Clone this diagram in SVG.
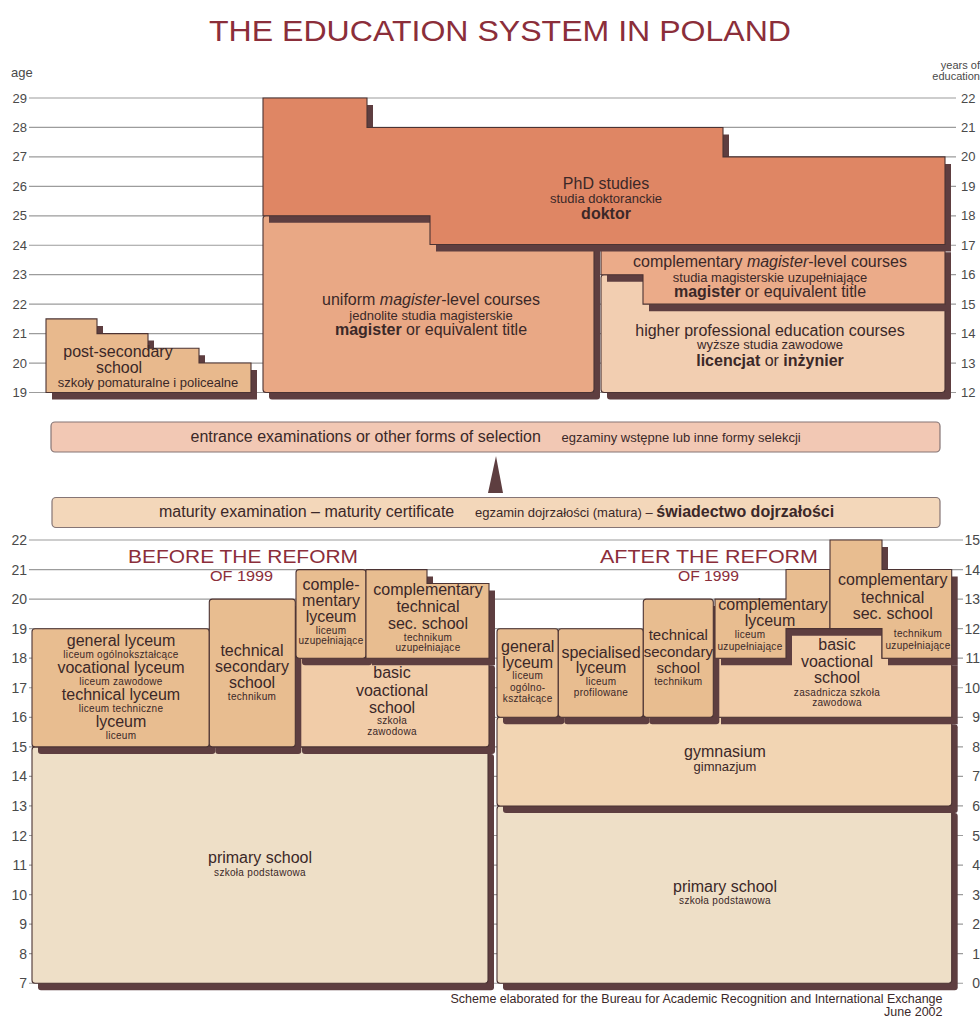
<svg xmlns="http://www.w3.org/2000/svg" width="980" height="1018" viewBox="0 0 980 1018">
<style>
text{font-family:"Liberation Sans",Arial,Helvetica,sans-serif;fill:#3B2828}
.m{font-size:16px}
.m15{font-size:15px}
.s{font-size:13px}
.f{font-size:12.5px}
.t{font-size:10px;letter-spacing:.3px}
.b{font-weight:bold}
.i{font-style:italic}
.c{text-anchor:middle}
.e{text-anchor:end}
.ax{font-size:13px;fill:#4a4a4a}
.ax1{font-size:11px;fill:#4a4a4a}
.ax2{font-size:14px;fill:#4a4a4a}
.red{fill:#8B2E3A}
.grid{stroke:#9c9c9c;stroke-width:1.2;fill:none}
.sh{fill:#5E3E40}
.bx{stroke:#4B3333;stroke-width:1.1}
.band{stroke:#857575;stroke-width:1.2}
.phd{fill:#DF8664}
.mag{fill:#E9A885}
.cmag{fill:#EBAB89}
.hpe{fill:#F2CEB1}
.pst{fill:#E8B98D}
.tan{fill:#E8BD90}
.bas{fill:#F1CCA8}
.gym{fill:#F2D5B3}
.pri{fill:#EEDFC7}
</style>

<rect width="980" height="1018" fill="#FFFFFF"/>

<text id="title" class="red" x="209" y="41" font-size="30" textLength="582" lengthAdjust="spacingAndGlyphs">THE EDUCATION SYSTEM IN POLAND</text>

<g id="axis-top">
<path class="grid" d="M29,98H956M29,127.45H956M29,156.9H956M29,186.35H956M29,215.8H956M29,245.25H956M29,274.7H956M29,304.15H956M29,333.6H956M29,363.05H956M29,392.5H956"/>
<text class="ax" x="11" y="77">age</text>
<text class="ax1 e" x="980" y="69">years of</text>
<text class="ax1 e" x="980" y="80">education</text>
<text class="ax e" x="27" y="102.5">29</text>
<text class="ax e" x="27" y="132">28</text>
<text class="ax e" x="27" y="161.4">27</text>
<text class="ax e" x="27" y="190.9">26</text>
<text class="ax e" x="27" y="220.3">25</text>
<text class="ax e" x="27" y="249.8">24</text>
<text class="ax e" x="27" y="279.2">23</text>
<text class="ax e" x="27" y="308.7">22</text>
<text class="ax e" x="27" y="338.1">21</text>
<text class="ax e" x="27" y="367.6">20</text>
<text class="ax e" x="27" y="397">19</text>
<text class="ax" x="961" y="102.5">22</text>
<text class="ax" x="961" y="132">21</text>
<text class="ax" x="961" y="161.4">20</text>
<text class="ax" x="961" y="190.9">19</text>
<text class="ax" x="961" y="220.3">18</text>
<text class="ax" x="961" y="249.8">17</text>
<text class="ax" x="961" y="279.2">16</text>
<text class="ax" x="961" y="308.7">15</text>
<text class="ax" x="961" y="338.1">14</text>
<text class="ax" x="961" y="367.6">13</text>
<text class="ax" x="961" y="397">12</text>
</g>

<g id="axis-bottom">
<path class="grid" d="M29,540H963M29,569.55H963M29,599.1H963M29,628.65H963M29,658.2H963M29,687.75H963M29,717.3H963M29,746.85H963M29,776.4H963M29,805.95H963M29,835.5H963M29,865.05H963M29,894.6H963M29,924.15H963M29,953.7H963M29,983.25H963"/>
<text class="ax2 e" x="27" y="545">22</text>
<text class="ax2 e" x="27" y="574.6">21</text>
<text class="ax2 e" x="27" y="604.1">20</text>
<text class="ax2 e" x="27" y="633.7">19</text>
<text class="ax2 e" x="27" y="663.2">18</text>
<text class="ax2 e" x="27" y="692.8">17</text>
<text class="ax2 e" x="27" y="722.3">16</text>
<text class="ax2 e" x="27" y="751.9">15</text>
<text class="ax2 e" x="27" y="781.4">14</text>
<text class="ax2 e" x="27" y="811">13</text>
<text class="ax2 e" x="27" y="840.5">12</text>
<text class="ax2 e" x="27" y="870">11</text>
<text class="ax2 e" x="27" y="899.6">10</text>
<text class="ax2 e" x="27" y="929.2">9</text>
<text class="ax2 e" x="27" y="958.7">8</text>
<text class="ax2 e" x="27" y="988.3">7</text>
<text class="ax2 e" x="980" y="545">15</text>
<text class="ax2 e" x="980" y="574.6">14</text>
<text class="ax2 e" x="980" y="604.1">13</text>
<text class="ax2 e" x="980" y="633.7">12</text>
<text class="ax2 e" x="980" y="663.2">11</text>
<text class="ax2 e" x="980" y="692.8">10</text>
<text class="ax2 e" x="980" y="722.3">9</text>
<text class="ax2 e" x="980" y="751.9">8</text>
<text class="ax2 e" x="980" y="781.4">7</text>
<text class="ax2 e" x="980" y="811">6</text>
<text class="ax2 e" x="980" y="840.5">5</text>
<text class="ax2 e" x="980" y="870">4</text>
<text class="ax2 e" x="980" y="899.6">3</text>
<text class="ax2 e" x="980" y="929.2">2</text>
<text class="ax2 e" x="980" y="958.7">1</text>
<text class="ax2 e" x="980" y="988.3">0</text>
</g>

<!-- upper section -->
<g id="post-secondary">
<path class="sh" transform="translate(6,7)" d="M46,318.9H97V333.6H148V348.3H199V363.05H251V392.5H46Z"/>
<path class="pst bx" d="M46,318.9H97V333.6H148V348.3H199V363.05H251V392.5H46Z"/>
<text class="m c" x="118" y="357">post-secondary</text>
<text class="m c" x="119" y="373">school</text>
<text class="s c" x="148" y="386.5">szkoły pomaturalne i policealne</text>
</g>

<g id="higher-professional">
<rect class="sh" x="607" y="281.7" width="344" height="117.8" rx="3"/>
<rect class="hpe bx" x="601" y="274.7" width="344" height="117.8" rx="3"/>
<text class="m c" x="770" y="335.5">higher professional education courses</text>
<text class="s c" x="770" y="349">wyższe studia zawodowe</text>
<text class="m c" x="770" y="366"><tspan class="b">licencjat</tspan> or <tspan class="b">inżynier</tspan></text>
</g>

<g id="complementary-magister">
<path class="sh" transform="translate(6,7)" d="M601,245.25H945V304.15H643V274.7H601Z"/>
<path class="cmag bx" d="M601,245.25H945V304.15H643V274.7H601Z"/>
<text class="m c" x="770" y="267">complementary <tspan class="i">magister</tspan>-level courses</text>
<text class="s c" x="770" y="282">studia magisterskie uzupełniające</text>
<text class="m c" x="770" y="297"><tspan class="b">magister</tspan> or equivalent title</text>
</g>

<g id="uniform-magister">
<rect class="sh" x="269" y="222.8" width="331" height="176.7" rx="3"/>
<rect class="mag bx" x="263" y="215.8" width="331" height="176.7" rx="3"/>
<text class="m c" x="431" y="305">uniform <tspan class="i">magister</tspan>-level courses</text>
<text class="s c" x="431" y="320">jednolite studia magisterskie</text>
<text class="m c" x="431" y="335"><tspan class="b">magister</tspan> or equivalent title</text>
</g>

<g id="phd">
<path class="sh" transform="translate(6,7)" d="M263,98H367V127.45H723V156.9H945V244.5H430V215.8H263Z"/>
<path class="phd bx" d="M263,98H367V127.45H723V156.9H945V244.5H430V215.8H263Z"/>
<text class="m c" x="606" y="189">PhD studies</text>
<text class="s c" x="606" y="203">studia doktoranckie</text>
<text class="m c b" x="606" y="219">doktor</text>
</g>

<g id="entrance-examinations">
<rect class="band" x="51" y="422" width="889" height="30" rx="4" fill="#F2C8B4"/>
<text class="m" x="190.5" y="441.5">entrance examinations or other forms of selection</text>
<text class="s" x="561.5" y="441.5">egzaminy wstępne lub inne formy selekcji</text>
</g>

<g id="maturity-examination">
<rect class="band" x="52" y="497.5" width="888" height="30" rx="4" fill="#F3D7BA"/>
<text class="m" x="159" y="517">maturity examination – maturity certificate</text>
<text class="s" x="475" y="517">egzamin dojrzałości (matura) – <tspan class="m b">świadectwo dojrzałości</tspan></text>
</g>

<g id="connectors">
<polygon points="488,493 503,493 496,456" fill="#5E3E40"/>
</g>

<!-- before the reform -->
<g id="before-heading">
<text class="red" x="128" y="563" font-size="18" textLength="230" lengthAdjust="spacingAndGlyphs">BEFORE THE REFORM</text>
<text class="red" x="210" y="581" font-size="14" textLength="63" lengthAdjust="spacingAndGlyphs">OF 1999</text>
</g>

<g id="primary-before">
<rect class="sh" x="38" y="753.9" width="456" height="236.4" rx="3"/>
<rect class="pri bx" x="32" y="746.9" width="456" height="236.4" rx="3"/>
<text class="m c" x="260" y="863">primary school</text>
<text class="t c" x="260" y="876">szkoła podstawowa</text>
</g>

<g id="basic-vocational-before">
<rect class="sh" x="302" y="665.2" width="193" height="88.7" rx="3"/>
<rect class="bas bx" x="296" y="658.2" width="193" height="88.7" rx="3"/>
<text class="m c" x="392" y="678">basic</text>
<text class="m c" x="392" y="695.5">voactional</text>
<text class="m c" x="392" y="712.5">school</text>
<text class="t c" x="392" y="724">szkoła</text>
<text class="t c" x="392" y="734.5">zawodowa</text>
</g>

<g id="lyceum-before">
<rect class="sh" x="38" y="635.7" width="177.3" height="118.2" rx="3"/>
<rect class="tan bx" x="32" y="628.7" width="177.3" height="118.2" rx="3"/>
<text class="m c" x="121" y="646">general lyceum</text>
<text class="t c" x="121" y="657.5">liceum ogólnokształcące</text>
<text class="m c" x="121" y="672.5">vocational lyceum</text>
<text class="t c" x="121" y="684.5">liceum zawodowe</text>
<text class="m c" x="121" y="699.5">technical lyceum</text>
<text class="t c" x="121" y="712">liceum techniczne</text>
<text class="m c" x="121" y="726.5">lyceum</text>
<text class="t c" x="121" y="738.5">liceum</text>
</g>

<g id="technical-secondary-before">
<rect class="sh" x="215.3" y="606.1" width="86" height="147.8" rx="3"/>
<rect class="tan bx" x="209.3" y="599.1" width="86" height="147.8" rx="3"/>
<text class="m c" x="252" y="656">technical</text>
<text class="m c" x="252" y="672">secondary</text>
<text class="m c" x="252" y="688">school</text>
<text class="t c" x="252" y="700">technikum</text>
</g>

<g id="complementary-lyceum-before">
<rect class="sh" x="302" y="576.6" width="70" height="88.6" rx="3"/>
<rect class="tan bx" x="296" y="569.6" width="70" height="88.6" rx="3"/>
<text class="m c" x="331" y="590">comple-</text>
<text class="m c" x="331" y="606">mentary</text>
<text class="m c" x="331" y="621.5">lyceum</text>
<text class="t c" x="331" y="633.5">liceum</text>
<text class="t c" x="331" y="644">uzupełniające</text>
</g>

<g id="complementary-technical-before">
<path class="sh" transform="translate(6,7)" d="M366,569.6H427V583.5H489V658.2H366Z"/>
<path class="tan bx" d="M366,569.6H427V583.5H489V658.2H366Z"/>
<text class="m c" x="428" y="595">complementary</text>
<text class="m c" x="428" y="612">technical</text>
<text class="m c" x="428" y="629">sec. school</text>
<text class="t c" x="428" y="641">technikum</text>
<text class="t c" x="428" y="651">uzupełniające</text>
</g>

<!-- after the reform -->
<g id="after-heading">
<text class="red" x="600" y="563" font-size="18" textLength="218" lengthAdjust="spacingAndGlyphs">AFTER THE REFORM</text>
<text class="red" x="678" y="581" font-size="14" textLength="61" lengthAdjust="spacingAndGlyphs">OF 1999</text>
</g>

<g id="primary-after">
<rect class="sh" x="503" y="813" width="454.7" height="177.3" rx="3"/>
<rect class="pri bx" x="497" y="806" width="454.7" height="177.3" rx="3"/>
<text class="m c" x="725" y="891.5">primary school</text>
<text class="t c" x="725" y="904">szkoła podstawowa</text>
</g>

<g id="gymnasium">
<rect class="sh" x="503" y="724.3" width="454.7" height="88.7" rx="3"/>
<rect class="gym bx" x="497" y="717.3" width="454.7" height="88.7" rx="3"/>
<text class="m c" x="725" y="756.5">gymnasium</text>
<text class="s c" x="725" y="770.5">gimnazjum</text>
</g>

<g id="basic-vocational-after">
<path class="sh" transform="translate(6,7)" d="M715,658.2H786V628.65H882V658.2H951.7V717.3H715Z"/>
<path class="bas bx" d="M715,658.2H786V628.65H882V658.2H951.7V717.3H715Z"/>
<text class="m c" x="837" y="650">basic</text>
<text class="m c" x="837" y="666.5">voactional</text>
<text class="m c" x="837" y="682.5">school</text>
<text class="t c" x="837" y="696">zasadnicza szkoła</text>
<text class="t c" x="837" y="706">zawodowa</text>
</g>

<g id="general-lyceum-after">
<rect class="sh" x="503" y="635.7" width="61.3" height="88.6" rx="3"/>
<rect class="tan bx" x="497" y="628.7" width="61.3" height="88.6" rx="3"/>
<text class="m c" x="527.7" y="651.5">general</text>
<text class="m c" x="527.7" y="667.5">lyceum</text>
<text class="t c" x="527.7" y="679">liceum</text>
<text class="t c" x="527.7" y="690.5">ogólno-</text>
<text class="t c" x="527.7" y="701.5">kształcące</text>
</g>

<g id="specialised-lyceum">
<rect class="sh" x="564.3" y="635.7" width="85" height="88.6" rx="3"/>
<rect class="tan bx" x="558.3" y="628.7" width="85" height="88.6" rx="3"/>
<text class="m c" x="601" y="657.5">specialised</text>
<text class="m c" x="601" y="672.5">lyceum</text>
<text class="t c" x="601" y="685">liceum</text>
<text class="t c" x="601" y="696">profilowane</text>
</g>

<g id="technical-secondary-after">
<rect class="sh" x="649.3" y="606.1" width="70" height="118.2" rx="3"/>
<rect class="tan bx" x="643.3" y="599.1" width="70" height="118.2" rx="3"/>
<text class="m15 c" x="678.3" y="640">technical</text>
<text class="m15 c" x="678.3" y="656.5">secondary</text>
<text class="m15 c" x="678.3" y="673">school</text>
<text class="t c" x="678.3" y="685">technikum</text>
</g>

<g id="complementary-lyceum-after">
<path class="sh" transform="translate(6,7)" d="M715,599.1H786V569.55H830V628.65H786V658.2H715Z"/>
<path class="tan bx" d="M715,599.1H786V569.55H830V628.65H786V658.2H715Z"/>
<text class="m c" x="773" y="610">complementary</text>
<text class="m c" x="770" y="625.5">lyceum</text>
<text class="t c" x="750" y="637.5">liceum</text>
<text class="t c" x="750" y="650">uzupełniające</text>
</g>

<g id="complementary-technical-after">
<path class="sh" transform="translate(6,7)" d="M830,540H882V569.55H951.7V658.2H882V628.65H830Z"/>
<path class="tan bx" d="M830,540H882V569.55H951.7V658.2H882V628.65H830Z"/>
<text class="m c" x="892.7" y="585">complementary</text>
<text class="m c" x="892.7" y="602.5">technical</text>
<text class="m c" x="892.7" y="618.5">sec. school</text>
<text class="t c" x="918" y="637">technikum</text>
<text class="t c" x="918" y="649">uzupełniające</text>
</g>

<g id="footer">
<text class="f e" x="942.5" y="1002.5">Scheme elaborated for the Bureau for Academic Recognition and International Exchange</text>
<text class="f e" x="942.5" y="1016">June 2002</text>
</g>
</svg>
